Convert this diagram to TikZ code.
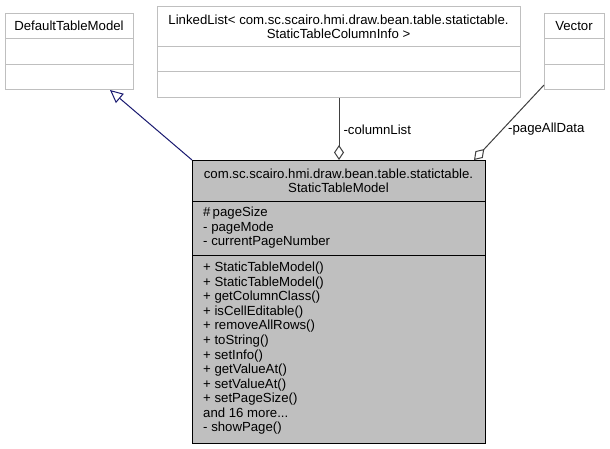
\documentclass[tikz,border=0pt]{standalone}
\usepackage{fontspec}
\setmainfont{Liberation Sans}
\usetikzlibrary{arrows.meta}
\definecolor{boxline}{HTML}{BFBFBF}
\definecolor{mainfill}{HTML}{BFBFBF}
\definecolor{navyline}{HTML}{191970}
\definecolor{aggline}{HTML}{404040}
\newcommand\myandmore{and 16 more...}
\begin{document}
\begin{tikzpicture}[x=1pt,y=-1pt,
  txt/.style={inner sep=0pt, font=\fontsize{13.2}{14.5}\selectfont, text height=9.5pt, text depth=0pt},
  extbox/.style={draw=boxline, fill=white, line width=1pt, inner sep=0pt, anchor=north west},
  mainbox/.style={draw=black, fill=mainfill, line width=1pt, inner sep=0pt, anchor=north west},
  divline/.style={draw=boxline, line width=1pt},
  maindiv/.style={draw=black, line width=1pt},
  gen/.style={draw=navyline, line width=1pt, -{Triangle[open,length=13pt,width=12pt]}},
  agg/.style={draw=aggline, line width=1pt, {Diamond[open,length=15pt,width=10pt]}-},
]
\useasboundingbox[fill=white] (0,0) rectangle (610,448);

% DefaultTableModel
\node[extbox, minimum width=128pt, minimum height=76pt] (dtm) at (5,13) {};
\draw[divline] (5,38) -- (133,38);
\draw[divline] (5,64) -- (133,64);
\node[txt] (dtmt) at (69,26) {DefaultTableModel};

% LinkedList
\node[extbox, minimum width=363pt, minimum height=91pt] (ll) at (157,6) {};
\draw[divline] (157,46) -- (520,46);
\draw[divline] (157,71) -- (520,71);
\node[txt] (llt1) at (338.5,19.5) {LinkedList< com.sc.scairo.hmi.draw.bean.table.statictable.};
\node[txt] (llt2) at (338.5,33.5) {StaticTableColumnInfo >};

% Vector
\node[extbox, minimum width=60pt, minimum height=76pt] (vec) at (544,13) {};
\draw[divline] (544,38) -- (604,38);
\draw[divline] (544,64) -- (604,64);
\node[txt] (vect) at (574,26) {Vector};

% Main class
\node[mainbox, minimum width=293pt, minimum height=283pt] (main) at (192,160) {};
\draw[maindiv] (192,201) -- (485,201);
\draw[maindiv] (192,255) -- (485,255);
\node[txt] (mt1) at (338.5,174) {com.sc.scairo.hmi.draw.bean.table.statictable.};
\node[txt] (mt2) at (338.5,188) {StaticTableModel};
\node[txt, anchor=west] (a1) at (203,212) {\#\,pageSize};
\node[txt, anchor=west] (a2) at (203,226.5) {- pageMode};
\node[txt, anchor=west] (a3) at (203,241) {- currentPageNumber};
\foreach \t [count=\i from 0] in {+ StaticTableModel(), + StaticTableModel(), + getColumnClass(), + isCellEditable(), + removeAllRows(), + toString(), + setInfo(), + getValueAt(), + setValueAt(), + setPageSize(), \myandmore, - showPage()}
  \node[txt, anchor=west] (m\i) at (203,267+14.55*\i) {\t};

% Connectors
\draw[gen] (main.north west) -- ([xshift=105pt]dtm.south west);
\draw[agg] (main.north) -- (ll.south) node[pos=0.48, txt, anchor=west, xshift=4pt] (lcl) {-columnList};
\draw[agg] ([xshift=-12pt]main.north east) -- ([yshift=5pt]vec.south west);
\node[txt, anchor=west] (lpad) at (508,128) {-pageAllData};
\end{tikzpicture}
\end{document}
